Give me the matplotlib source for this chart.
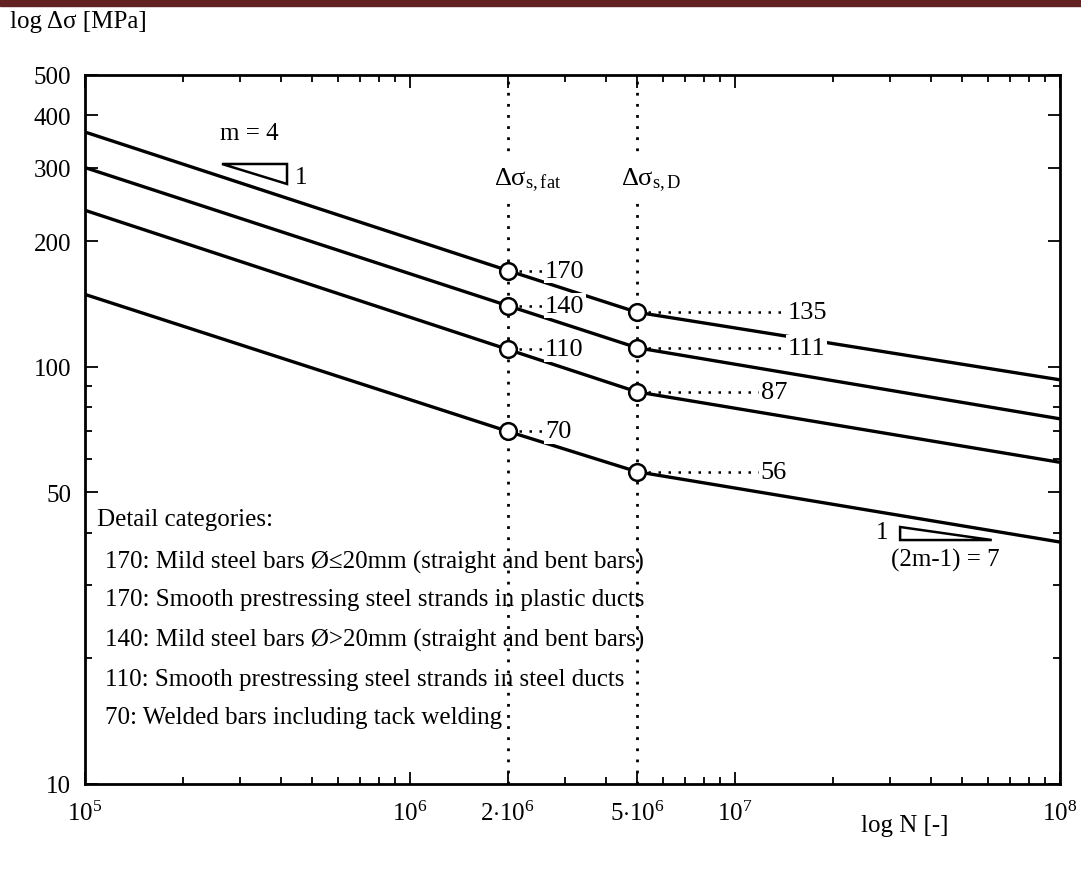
import matplotlib
matplotlib.use("Agg")
import matplotlib.pyplot as plt
from matplotlib.patches import Rectangle, Polygon

# Fuentes
plt.rcParams['font.family'] = ['Liberation Serif', 'DejaVu Serif']
plt.rcParams['mathtext.fontset'] = 'custom'
plt.rcParams['mathtext.rm'] = 'Liberation Serif'
plt.rcParams['mathtext.it'] = 'Liberation Serif:italic'

# Datos
#------------------------------------------------------------------------
N_pts = [1e5, 2e6, 5e6, 1e8]
s_170 = [365, 170, 135, 93]
s_140 = [300, 140, 111, 75]
s_110 = [237, 110, 87, 59]
s_70 = [149, 70, 56, 38]
curves = [s_170, s_140, s_110, s_70]

fat_labels = ['170', '140', '110', '70']
d_labels = ['135', '111', '87', '56']

x_ticks = [1e5, 1e6, 2e6, 5e6, 1e7, 1e8]
x_ticklabels = ['$10^5$', '$10^6$', r'$2{\cdot}10^6$', r'$5{\cdot}10^6$', '$10^7$', '$10^8$']
y_ticks = [10, 50, 100, 200, 300, 400, 500]
y_minor = [20, 30, 40, 60, 70, 80, 90]

categories = [
    "170: Mild steel bars Ø≤20mm (straight and bent bars)",
    "170: Smooth prestressing steel strands in plastic ducts",
    "140: Mild steel bars Ø>20mm (straight and bent bars)",
    "110: Smooth prestressing steel strands in steel ducts",
    "70: Welded bars including tack welding",
]

# Figura
#------------------------------------------------------------------------
W, H = 1081, 870
fig = plt.figure(figsize=(W / 100, H / 100), dpi=100)
fig.patches.append(Rectangle((0, 1 - 7 / H), 1, 7 / H, transform=fig.transFigure,
                             color='#632222', zorder=0))

ax = fig.add_axes([85 / W, 1 - 785 / H, (1060 - 85) / W, (785 - 76) / H])
ax.set_xscale('log')
ax.set_yscale('log')
ax.set_xlim(1e5, 1e8)
ax.set_ylim(10, 500)

dot = (0, (1, 3))

# Lineas verticales
for xv in [2e6, 5e6]:
    ax.axvline(xv, color='k', lw=2, ls=dot, zorder=1)

# Curvas
for vals in curves:
    ax.plot(N_pts, vals, color='k', lw=2.4, zorder=2, solid_capstyle='butt')

# Puntos y etiquetas
lab_box = dict(facecolor='white', edgecolor='none', pad=1)
fat_x = 2.6e6
d_x = [1.45e7, 1.45e7, 1.2e7, 1.2e7]
for i, vals in enumerate(curves):
    v_fat, v_d = vals[1], vals[2]
    ax.plot([2e6 * 1.08, fat_x], [v_fat, v_fat], color='k', lw=1.8, ls=dot, zorder=3)
    ax.plot([5e6 * 1.08, d_x[i]], [v_d, v_d], color='k', lw=1.8, ls=dot, zorder=3)
    ax.plot([2e6, 5e6], [v_fat, v_d], 'o', ms=12, mfc='white', mec='k', mew=1.8, zorder=5)
    ax.text(fat_x, v_fat, fat_labels[i], fontsize=19, ha='left', va='center',
            bbox=lab_box, zorder=4)
    ax.text(d_x[i], v_d, d_labels[i], fontsize=19, ha='left', va='center',
            bbox=lab_box, zorder=4)

# Etiquetas de las lineas verticales
ax.annotate('Δσ$_{\\rm s,fat}$', xy=(2e6, 0.853), xycoords=('data', 'axes fraction'),
            xytext=(14, 0), textcoords='offset points', ha='center', va='center',
            fontsize=19, bbox=dict(facecolor='white', edgecolor='none', pad=6), zorder=4)
ax.annotate('Δσ$_{\\rm s,D}$', xy=(5e6, 0.853), xycoords=('data', 'axes fraction'),
            xytext=(10, 0), textcoords='offset points', ha='center', va='center',
            fontsize=19, bbox=dict(facecolor='white', edgecolor='none', pad=6), zorder=4)

# Triangulos de pendiente
tri1 = Polygon([(0.1405, 0.8745), (0.2072, 0.8745), (0.2072, 0.8463)], closed=True,
               fill=False, lw=1.8, ec='k', transform=ax.transAxes)
ax.add_patch(tri1)
ax.text(0.169, 0.918, 'm = 4', transform=ax.transAxes, fontsize=18, ha='center', va='center')
ax.text(0.222, 0.856, '1', transform=ax.transAxes, fontsize=18, ha='center', va='center')

tri2 = Polygon([(0.836, 0.3625), (0.836, 0.3441), (0.930, 0.3441)], closed=True,
               fill=False, lw=1.8, ec='k', transform=ax.transAxes)
ax.add_patch(tri2)
ax.text(0.8174, 0.3554, '1', transform=ax.transAxes, fontsize=18, ha='center', va='center')
ax.text(0.882, 0.317, '(2m-1) = 7', transform=ax.transAxes, fontsize=18, ha='center', va='center')

# Categorias
ax.text(0.0123, 0.374, 'Detail categories:', transform=ax.transAxes, fontsize=18,
        ha='left', va='center')
cat_y = [0.3145, 0.2609, 0.2045, 0.1481, 0.0945]
for txt, yy in zip(categories, cat_y):
    ax.text(0.0205, yy, txt, transform=ax.transAxes, fontsize=18, ha='left', va='center')

# Ejes
ax.set_xticks(x_ticks)
ax.set_xticklabels(x_ticklabels)
ax.set_yticks(y_ticks)
ax.set_yticks(y_minor, minor=True)
ax.set_yticklabels([str(v) for v in y_ticks])
ax.yaxis.set_minor_formatter(matplotlib.ticker.NullFormatter())
ax.tick_params(which='both', direction='in', top=True, right=True, width=1.3)
ax.tick_params(which='major', length=9)
ax.tick_params(which='minor', length=5)
ax.tick_params(axis='x', labelsize=18, pad=12)
ax.tick_params(axis='y', labelsize=18, pad=10)
for sp in ax.spines.values():
    sp.set_linewidth(2)

fig.text(10 / W, 1 - 22 / H, 'log Δσ [MPa]', fontsize=18, ha='left', va='center')
fig.text(905 / W, 1 - 826 / H, 'log N [-]', fontsize=18, ha='center', va='center')

fig.savefig('out.png', dpi=100, facecolor='white')
